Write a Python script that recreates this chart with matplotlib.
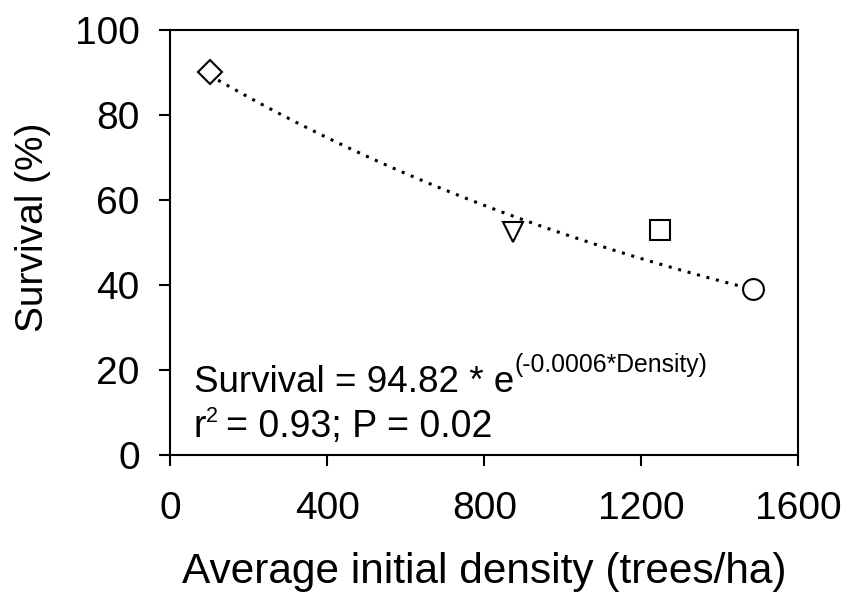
import numpy as np
import matplotlib
matplotlib.use("Agg")
import matplotlib.pyplot as plt

plt.rcParams['font.family'] = ['Liberation Sans', 'DejaVu Sans']

density = [102, 872, 1247, 1484]
survival = [90.0, 52.5, 53.0, 39.0]
markers = ['D', 'v', 's', 'o']
marker_sizes = [12.5, 14, 14, 15]

fit_a = 94.82
fit_b = -0.0006
fit_x_range = [100, 1480]

xticks = [0, 400, 800, 1200, 1600]
yticks = [0, 20, 40, 60, 80, 100]

fig = plt.figure(figsize=(8.52, 5.96), dpi=100)
ax = fig.add_axes([0.2, 0.237, 0.737, 0.713])

xf = np.linspace(fit_x_range[0], fit_x_range[1], 200)
ax.plot(xf, fit_a * np.exp(fit_b * xf), linestyle=(0, (1, 2.2)), color='black', lw=2.2, zorder=2)

for x, y, m, s in zip(density, survival, markers, marker_sizes):
    ax.plot([x], [y], marker=m, markersize=s, markerfacecolor='white',
            markeredgecolor='black', markeredgewidth=1.5, linestyle='none', zorder=3)

ax.set_xlim(0, 1600)
ax.set_ylim(0, 100)
ax.set_xticks(xticks)
ax.set_yticks(yticks)
ax.tick_params(direction='out', length=8, width=1.5, labelsize=28)
ax.tick_params(axis='x', pad=18)
ax.tick_params(axis='y', pad=14)
for sp in ax.spines.values():
    sp.set_linewidth(1.5)

ax.set_xlabel('Average initial density (trees/ha)', fontsize=30.5, labelpad=18)
ax.set_ylabel('Survival (%)', fontsize=28)
ax.yaxis.set_label_coords(-0.19, 0.535)

fig.canvas.draw()
renderer = fig.canvas.get_renderer()

def draw_segments(xa, ya, segments):
    """segments: list of (text, fontsize, rise_px, gap_px_before)"""
    x0, y0 = ax.transAxes.transform((xa, ya))
    cur = x0
    inv = ax.transAxes.inverted()
    for txt, size, rise, gap in segments:
        cur += gap
        px, py = inv.transform((cur, y0 + rise))
        t = ax.text(px, py, txt, transform=ax.transAxes, fontsize=size,
                    va='baseline', ha='left')
        bb = t.get_window_extent(renderer=renderer)
        cur = bb.x1

draw_segments(0.037, 0.148, [('Survival = 94.82 * e', 26.5, 0, 0),
                             ('(-0.0006*Density)', 17.8, 20, 1)])
draw_segments(0.037, 0.042, [('r', 27, 0, 0),
                             ('2', 15.5, 15, 0),
                             ('= 0.93; P = 0.02', 27, 0, 8)])

fig.savefig('out.png', dpi=100)
